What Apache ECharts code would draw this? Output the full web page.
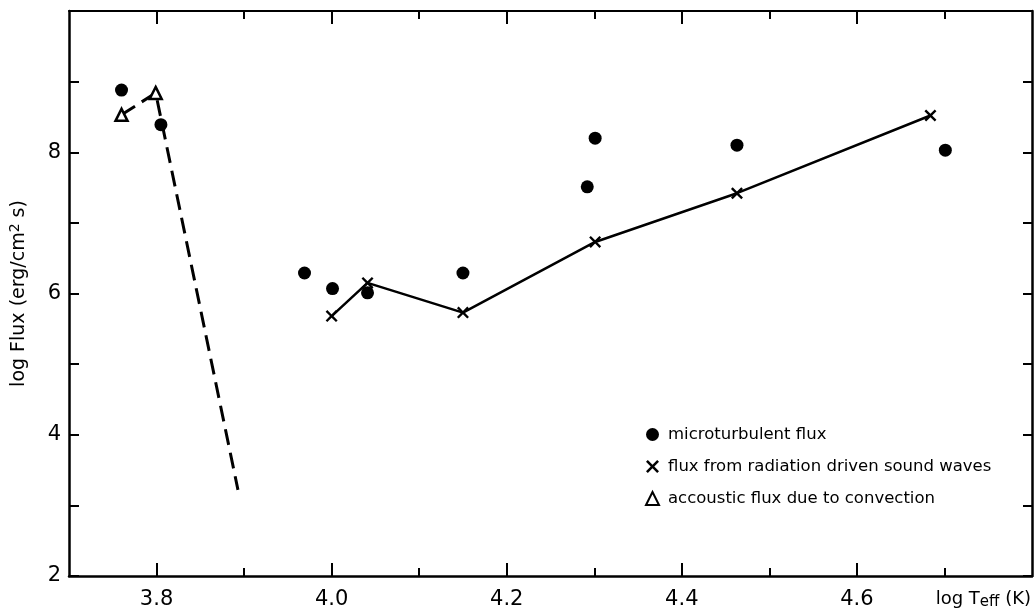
<!DOCTYPE html>
<html>
<head>
<meta charset="utf-8">
<script src="https://cdn.jsdelivr.net/npm/echarts@6/dist/echarts.min.js"></script>
<style>html,body{margin:0;padding:0;background:#fff;}#c{width:1034px;height:611px;}</style>
</head>
<body>
<div id="c"></div>
<script>
// ---- data ----
const microX = [3.760, 3.805, 3.969, 4.001, 4.041, 4.150, 4.292, 4.301, 4.463, 4.701];
const microY = [8.88, 8.39, 6.29, 6.07, 6.01, 6.29, 7.51, 8.20, 8.10, 8.03];
const radX = [4.000, 4.041, 4.150, 4.301, 4.463, 4.684];
const radY = [5.68, 6.15, 5.73, 6.73, 7.42, 8.52];
const acoustX = [3.760, 3.799, 3.893];
const acoustY = [8.53, 8.84, 3.22];
const acoustMarked = [true, true, false];
const xMajorTicks = [3.8, 4.0, 4.2, 4.4, 4.6];
const xMinorTicks = [3.9, 4.1, 4.3, 4.5, 4.7];
const yLabelTicks = [2, 4, 6, 8];
const seriesNames = ['microturbulent flux', 'flux from radiation driven sound waves', 'accoustic flux due to convection'];

const FONT = 'DejaVu Sans';
const crossPath = 'path://M0,1.4L1.4,0L5,3.6L8.6,0L10,1.4L6.4,5L10,8.6L8.6,10L5,6.4L1.4,10L0,8.6L3.6,5Z';

const X_MIN = 3.7, X_MAX = 4.8, Y_MIN = 2, Y_MAX = 10;

function xAx(extra) {
  return Object.assign({
    type: 'value', min: X_MIN, max: X_MAX, interval: 0.1,
    gridIndex: 0,
    splitLine: { show: false },
    axisLine: { show: false, onZero: false },
    axisLabel: { show: false },
    axisTick: { show: false }
  }, extra);
}

const chart = echarts.init(document.getElementById('c'), null, { renderer: 'canvas' });
chart.setOption({
  backgroundColor: '#fff',
  animation: false,
  textStyle: { fontFamily: FONT, color: '#000' },
  grid: { left: 67, right: 2, top: 11, bottom: 35, containLabel: false },
  legend: {
    orient: 'vertical',
    left: 640, top: 421,
    itemWidth: 13, itemHeight: 13, itemGap: 15,
    selectedMode: false,
    textStyle: { fontFamily: FONT, fontSize: 16.5, color: '#000', padding: [0, 0, 0, 4] },
    data: [
      { name: seriesNames[0], icon: 'circle' },
      { name: seriesNames[1], icon: crossPath },
      { name: seriesNames[2], icon: 'triangle' }
    ]
  },
  xAxis: [
    xAx({
      position: 'bottom',
      axisLine: { show: true, onZero: false, lineStyle: { color: '#000', width: 2.5 } },
      axisTick: { show: true, inside: true, length: 13, lineStyle: { color: '#000', width: 2 }, customValues: xMajorTicks },
      axisLabel: { show: true, customValues: xMajorTicks, margin: 13, fontSize: 21, color: '#000', fontFamily: FONT,
                   formatter: v => Number(v).toFixed(1) },
      name: 'log T{sub|eff} (K)',
      nameLocation: 'end',
      nameGap: -1,
      nameTextStyle: {
        fontFamily: FONT, fontSize: 18, color: '#000', align: 'right', verticalAlign: 'middle',
        padding: [46, 0, 0, 0],
        rich: { sub: { fontFamily: FONT, fontSize: 15, color: '#000', padding: [7, 0, 0, 0] } }
      }
    }),
    xAx({
      position: 'bottom',
      axisTick: { show: true, inside: true, length: 8, lineStyle: { color: '#000', width: 2 }, customValues: xMinorTicks }
    }),
    xAx({
      position: 'top',
      axisLine: { show: true, onZero: false, lineStyle: { color: '#000', width: 2 } },
      axisTick: { show: true, inside: true, length: 13, lineStyle: { color: '#000', width: 2 }, customValues: xMajorTicks }
    }),
    xAx({
      position: 'top',
      axisTick: { show: true, inside: true, length: 8, lineStyle: { color: '#000', width: 2 }, customValues: xMinorTicks }
    })
  ],
  yAxis: [
    {
      type: 'value', min: Y_MIN, max: Y_MAX, interval: 1, position: 'left',
      splitLine: { show: false },
      axisLine: { show: true, onZero: false, lineStyle: { color: '#000', width: 2.5 } },
      axisTick: { show: true, inside: true, length: 10, lineStyle: { color: '#000', width: 2 } },
      axisLabel: { show: true, customValues: yLabelTicks, margin: 8, fontSize: 21, color: '#000', fontFamily: FONT },
      name: 'log Flux (erg/cm{sup|2} s)',
      nameLocation: 'middle',
      nameGap: 38,
      nameRotate: 90,
      nameTextStyle: {
        fontFamily: FONT, fontSize: 19, color: '#000',
        rich: { sup: { fontFamily: FONT, fontSize: 14, color: '#000', padding: [0, 0, 9, 0] } }
      }
    },
    {
      type: 'value', min: Y_MIN, max: Y_MAX, interval: 1, position: 'right',
      splitLine: { show: false },
      axisLine: { show: true, onZero: false, lineStyle: { color: '#000', width: 2.5 } },
      axisTick: { show: true, inside: true, length: 9, lineStyle: { color: '#000', width: 2 } },
      axisLabel: { show: false }
    }
  ],
  series: [
    {
      name: seriesNames[0],
      type: 'scatter',
      xAxisIndex: 0, yAxisIndex: 0,
      symbol: 'circle', symbolSize: 13,
      itemStyle: { color: '#000', opacity: 1 },
      data: microX.map((x, i) => [x, microY[i]]),
      z: 3
    },
    {
      name: seriesNames[1],
      type: 'line',
      xAxisIndex: 0, yAxisIndex: 0,
      symbol: crossPath, symbolSize: 12,
      showAllSymbol: true,
      itemStyle: { color: '#000' },
      lineStyle: { color: '#000', width: 2.5 },
      data: radX.map((x, i) => [x, radY[i]]),
      z: 4
    },
    {
      name: seriesNames[2],
      type: 'line',
      xAxisIndex: 0, yAxisIndex: 0,
      symbol: 'triangle', symbolSize: 12,
      showAllSymbol: true,
      itemStyle: { color: '#fff', borderColor: '#000', borderWidth: 2.5 },
      lineStyle: { color: '#000', width: 3, type: [16, 8] },
      data: acoustX.map((x, i) => acoustMarked[i] ? [x, acoustY[i]] : { value: [x, acoustY[i]], symbol: 'none' }),
      z: 4
    }
  ]
});
</script>
</body>
</html>
